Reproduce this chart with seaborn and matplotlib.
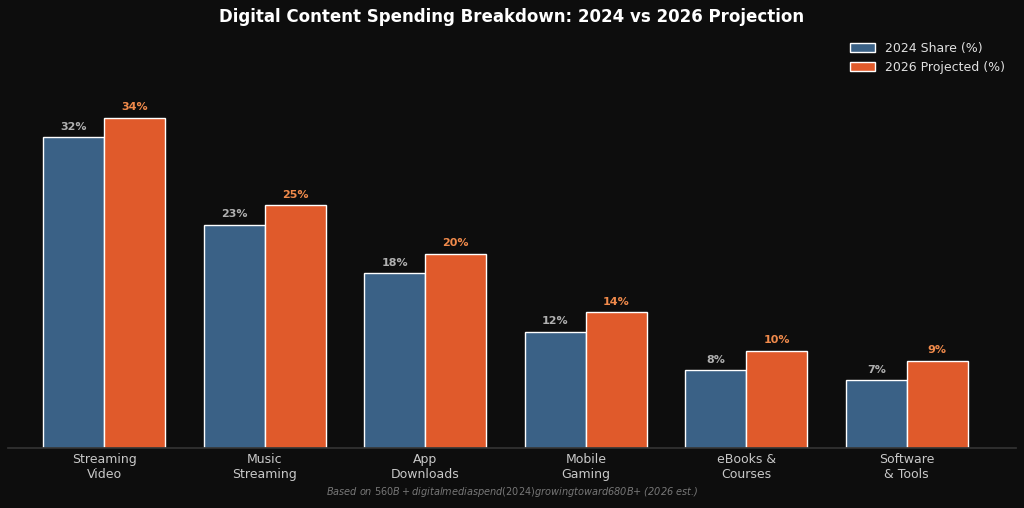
import pandas as pd
import matplotlib
matplotlib.use('Agg')
import matplotlib.pyplot as plt
import seaborn as sns

categories = ['Streaming\nVideo', 'Music\nStreaming', 'App\nDownloads', 'Mobile\nGaming', 'eBooks &\nCourses', 'Software\n& Tools']
share_2024 = [32, 23, 18, 12, 8, 7]
share_2026 = [34, 25, 20, 14, 10, 9]
series = ['2024 Share (%)', '2026 Projected (%)']

df = pd.DataFrame({
    'category': categories * 2,
    'value': share_2024 + share_2026,
    'series': [series[0]] * len(categories) + [series[1]] * len(categories),
})

bg = '#0d0d0d'
blue = '#3a6186'
orange = '#e05a2b'

sns.set_theme(style='dark')
plt.rcParams['font.family'] = ['DejaVu Sans']

fig, ax = plt.subplots(figsize=(10.24, 5.08), dpi=100)
fig.patch.set_facecolor(bg)
ax.set_facecolor(bg)

sns.barplot(data=df, x='category', y='value', hue='series', palette=[blue, orange],
            width=0.76, saturation=1, ax=ax)

# value labels
for cont, col in zip(ax.containers, ['#b0b0b0', '#f08a4b']):
    ax.bar_label(cont, labels=[f'{v:.0f}%' for v in cont.datavalues], padding=4,
                 color=col, fontsize=8, fontweight='bold')

ax.set_ylim(0, 43)
ax.set_xlim(-0.6, 5.68)
ax.set_yticks([])
ax.set_xlabel('')
ax.set_ylabel('')
ax.tick_params(axis='x', colors='#c8c8c8', labelsize=9, length=0)
for s in ['top', 'right', 'left']:
    ax.spines[s].set_visible(False)
ax.spines['bottom'].set_color('#333333')
ax.grid(False)

leg = ax.legend(loc='upper right', frameon=False, fontsize=9)
for t in leg.get_texts():
    t.set_color('#e0e0e0')

fig.suptitle('Digital Content Spending Breakdown: 2024 vs 2026 Projection',
             color='white', fontsize=12, fontweight='bold', y=0.985)
fig.text(0.5, 0.025, 'Based on $560B+ digital media spend (2024) growing toward $680B+ (2026 est.)',
         ha='center', color='#777777', fontsize=7, style='italic')

plt.subplots_adjust(left=0.008, right=0.992, top=0.94, bottom=0.118)
plt.savefig('out.png', dpi=100, facecolor=bg)
